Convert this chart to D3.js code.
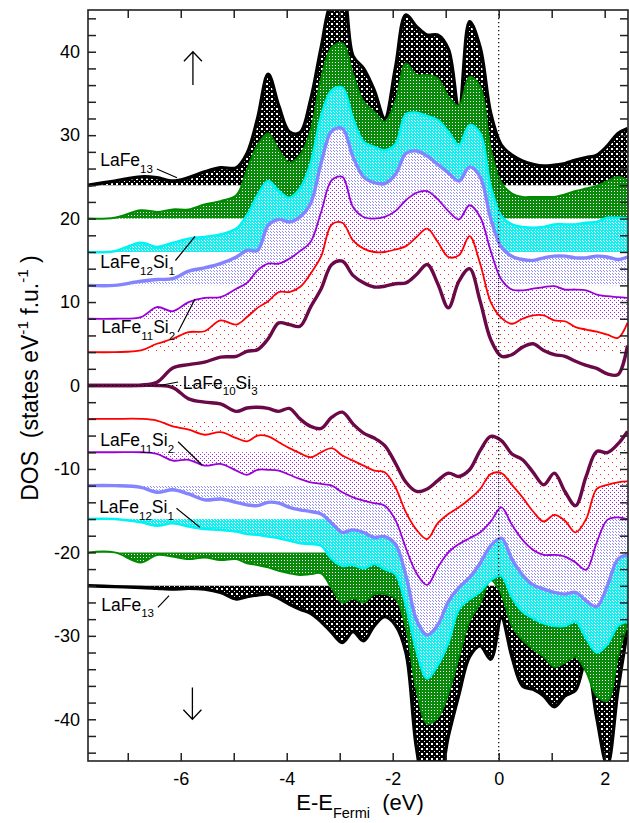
<!DOCTYPE html>
<html>
<head>
<meta charset="utf-8">
<script src="https://cdn.jsdelivr.net/npm/d3@7/dist/d3.min.js"></script>
<style>
  body { margin: 0; background: #fff; }
  #container svg { display: block; }
  text { white-space: pre; }
</style>
</head>
<body>
<div id="container"></div>
<script>
// DOS stack, spin up on top and spin down below, curves shifted by 4 states each

// energy grid (eV, relative to E_Fermi)
const energy = [-7.75, -7.25, -6.75, -6.45, -6.15, -5.85, -5.55, -5.25, -4.95, -4.75,
  -4.55, -4.35, -4.15, -3.95, -3.75, -3.55, -3.35, -3.15, -2.95, -2.75,
  -2.55, -2.35, -2.15, -1.95, -1.75, -1.55, -1.35, -1.15, -0.95, -0.75,
  -0.55, -0.35, -0.15, 0.05, 0.25, 0.45, 0.65, 0.85, 1.05, 1.25,
  1.45, 1.65, 1.85, 2.05, 2.25, 2.43];

// shift of each curve (black, green, cyan, blue, violet, red, maroon)
const shifts = [24, 20, 16, 12, 8, 4, 0];

// spin up, as plotted (shift included)
const blackUp = [24.0, 24.5, 25.0, 24.9, 24.5, 24.9, 25.6, 26.1, 26.1, 27.8,
  32.0, 37.3, 33.5, 30.4, 30.3, 34.2, 40.5, 46.0, 47.0, 39.5,
  38.0, 35.4, 32.0, 38.0, 44.4, 43.0, 42.0, 42.0, 40.3, 33.0,
  43.6, 40.5, 32.6, 28.8, 27.6, 26.9, 26.5, 26.3, 26.4, 26.6,
  27.0, 27.3, 27.6, 28.7, 30.2, 30.8];
const greenUp = [20.0, 20.1, 21.0, 20.8, 21.1, 21.1, 21.7, 22.1, 22.8, 25.8,
  28.8, 30.2, 28.2, 26.7, 27.6, 30.5, 36.8, 40.5, 41.0, 37.3,
  34.0, 32.8, 31.6, 34.0, 38.6, 37.2, 37.2, 36.8, 34.6, 33.5,
  37.0, 35.8, 28.3, 24.3, 23.0, 22.6, 22.6, 22.6, 22.6, 22.9,
  23.3, 23.6, 23.9, 24.5, 25.0, 24.6];
const cyanUp = [16.0, 16.1, 17.1, 16.6, 17.1, 17.6, 17.8, 18.1, 18.8, 20.4,
  22.8, 24.5, 23.3, 22.5, 23.6, 26.6, 32.3, 35.4, 35.7, 32.0,
  29.2, 28.6, 28.2, 28.9, 32.5, 32.7, 32.3, 31.8, 30.4, 28.8,
  31.2, 30.2, 23.8, 20.3, 19.3, 19.0, 18.9, 19.0, 19.3, 19.3,
  19.3, 19.5, 19.6, 20.1, 20.1, 20.0];
const blueUp = [12.0, 12.0, 12.5, 12.7, 12.8, 13.7, 14.1, 14.6, 15.4, 16.2,
  16.2, 19.2, 19.9, 19.6, 20.2, 21.8, 26.7, 30.5, 30.8, 27.4,
  25.0, 24.3, 24.2, 25.3, 27.8, 28.1, 27.5, 26.5, 25.5, 24.5,
  26.2, 25.0, 20.0, 16.6, 15.5, 15.1, 15.0, 15.3, 15.5, 15.5,
  15.3, 15.3, 15.5, 15.4, 15.1, 15.4];
const violetUp = [8.0, 8.0, 8.2, 9.4, 8.9, 10.0, 10.5, 10.6, 11.6, 12.3,
  13.8, 14.6, 14.6, 15.2, 16.1, 17.2, 20.8, 24.6, 25.0, 21.4,
  20.2, 20.0, 20.2, 20.9, 22.2, 23.1, 23.3, 22.3, 20.9, 19.9,
  21.6, 20.2, 16.1, 12.7, 11.5, 11.4, 11.6, 11.8, 11.9, 11.5,
  11.5, 11.4, 10.9, 10.7, 10.6, 10.5];
const redUp = [4.0, 4.0, 4.2, 5.0, 5.6, 6.4, 6.5, 7.8, 7.3, 8.2,
  9.3, 10.1, 11.2, 11.2, 11.8, 13.4, 15.5, 19.3, 19.5, 17.4,
  16.4, 16.0, 16.0, 16.3, 16.7, 17.8, 18.8, 17.2, 15.4, 15.6,
  17.9, 14.6, 10.0, 8.1, 7.4, 8.0, 8.4, 8.4, 7.8, 7.7,
  7.0, 6.7, 6.45, 6.1, 5.7, 7.5];
const maroonUp = [0.0, 0.0, 0.05, 0.4, 2.1, 2.5, 2.8, 3.4, 3.5, 4.1,
  4.3, 5.6, 7.5, 7.3, 7.1, 9.4, 11.6, 14.5, 14.9, 13.2,
  12.3, 11.8, 11.9, 12.2, 12.3, 13.3, 14.5, 12.2, 9.3, 12.5,
  14.0, 10.1, 5.5, 3.5, 3.7, 4.6, 5.0, 4.2, 3.7, 3.5,
  2.9, 2.4, 2.05, 1.4, 1.3, 4.8];

// spin down, as plotted (shift included)
const blackDn = [-24.0, -24.1, -24.2, -24.3, -24.4, -24.3, -24.4, -24.8, -25.6, -25.3,
  -25.1, -25.0, -25.5, -26.2, -26.8, -27.3, -28.3, -29.6, -30.8, -29.5,
  -30.6, -28.8, -27.7, -28.7, -32.0, -43.5, -49.0, -48.0, -42.0, -37.0,
  -32.5, -31.2, -32.8, -27.8, -32.5, -36.0, -36.4, -37.2, -38.5, -37.2,
  -36.5, -32.8, -39.8, -45.5, -36.5, -29.3];
const greenDn = [-20.0, -20.0, -21.2, -20.3, -20.5, -20.8, -20.6, -20.9, -20.8, -21.3,
  -21.5, -21.8, -22.2, -22.5, -22.7, -22.6, -22.5, -24.3, -26.0, -25.5,
  -26.0, -25.0, -25.0, -25.5, -29.0, -36.5, -40.5, -39.8, -36.9, -32.5,
  -28.2, -26.1, -23.3, -25.0, -28.8, -30.5, -31.6, -32.5, -33.7, -33.2,
  -32.5, -34.3, -37.2, -37.8, -32.5, -28.5];
const cyanDn = [-16.0, -16.0, -16.4, -16.8, -16.5, -16.9, -17.2, -17.3, -17.5, -17.8,
  -17.9, -18.1, -18.3, -18.6, -18.9, -19.0, -19.2, -20.8, -21.6, -21.5,
  -21.9, -21.4, -22.0, -22.6, -26.4, -31.8, -35.1, -33.5, -30.8, -26.8,
  -25.6, -24.7, -23.3, -22.8, -25.4, -27.1, -27.9, -28.5, -28.8, -28.8,
  -28.3, -30.3, -32.0, -31.0, -28.8, -28.3];
const blueDn = [-12.0, -12.0, -12.2, -12.8, -12.5, -13.0, -13.7, -13.6, -14.0, -14.3,
  -14.4, -14.0, -14.1, -14.6, -14.9, -15.1, -15.4, -16.5, -17.6, -17.3,
  -17.6, -18.2, -18.1, -19.0, -22.8, -28.1, -29.9, -28.7, -25.9, -24.2,
  -23.0, -21.3, -19.2, -18.3, -20.8, -22.7, -23.9, -24.4, -24.8, -25.0,
  -24.8, -25.8, -26.5, -24.0, -20.8, -20.3];
const violetDn = [-8.0, -8.0, -8.0, -8.2, -9.0, -8.9, -9.6, -9.4, -10.2, -10.7,
  -10.1, -10.1, -10.2, -10.7, -11.2, -11.6, -11.8, -12.0, -12.8, -13.4,
  -13.8, -14.1, -14.4, -16.1, -19.5, -22.5, -23.9, -21.8, -20.0, -19.0,
  -18.3, -17.6, -16.3, -14.6, -16.7, -18.5, -19.7, -20.3, -20.3, -20.5,
  -21.2, -22.1, -18.8, -16.1, -15.8, -16.0];
const redDn = [-4.0, -4.0, -4.0, -4.2, -4.9, -5.3, -5.9, -5.6, -6.3, -6.7,
  -6.0, -6.1, -6.8, -7.5, -8.1, -8.6, -8.0, -7.5, -8.4, -9.0,
  -9.6, -10.2, -10.4, -12.2, -15.2, -17.3, -18.4, -16.5, -15.4, -14.6,
  -13.6, -12.4, -10.6, -10.5, -11.9, -13.4, -15.1, -16.3, -15.5, -16.2,
  -17.6, -16.0, -12.4, -11.9, -11.6, -11.5];
const maroonDn = [0.0, 0.0, 0.0, 0.0, -0.25, -1.6, -2.0, -2.2, -3.1, -2.7,
  -2.6, -2.75, -3.1, -2.75, -4.0, -4.9, -5.15, -3.8, -3.2, -4.6,
  -5.7, -6.3, -7.2, -9.3, -11.6, -12.7, -12.4, -11.4, -10.5, -10.9,
  -10.1, -7.8, -6.1, -6.6, -8.2, -8.9, -10.4, -11.9, -10.5, -12.7,
  -14.4, -10.9, -7.9, -8.05, -7.0, -5.5];

// ticks
const xTicks = d3.range(-7, 3);          // every 1 eV
const xTickLabels = [-6, -4, -2, 0, 2];
const yTicks = d3.range(-44, 45, 2);     // every 2 states
const yTickLabels = [-40, -30, -20, -10, 0, 10, 20, 30, 40];

// curve labels: name parts, text anchor and leader line, in data units
const labels = [
  {parts: [["LaFe"], ["13", "sub"]], at: [-7.52, 26.25], lead: [[-6.45, 25.95], [-6.07, 24.9]]},
  {parts: [["LaFe"], ["12", "sub"], ["Si"], ["1", "sub"]], at: [-7.52, 14.08], lead: [[-6.10, 14.98], [-5.73, 17.86]]},
  {parts: [["LaFe"], ["11", "sub"], ["Si"], ["2", "sub"]], at: [-7.50, 6.29], lead: [[-6.05, 6.41], [-5.73, 10.37]]},
  {parts: [["LaFe"], ["10", "sub"], ["Si"], ["3", "sub"]], at: [-5.96, -0.36], lead: [[-6.39, 0.0], [-6.05, 0.42]]},
  {parts: [["LaFe"], ["11", "sub"], ["Si"], ["2", "sub"]], at: [-7.52, -7.31], lead: [[-6.05, -6.74], [-5.60, -9.53]]},
  {parts: [["LaFe"], ["12", "sub"], ["Si"], ["1", "sub"]], at: [-7.54, -15.28], lead: [[-6.08, -14.72], [-5.64, -16.99]]},
  {parts: [["LaFe"], ["13", "sub"]], at: [-7.50, -26.97], lead: [[-6.43, -26.58], [-6.22, -25.19]]}
];
// spin arrows: [energy, tail, tip]
const spinArrows = [[-5.77, 36.0, 40.0], [-5.78, -36.2, -40.0]];

const upSeries = [blackUp, greenUp, cyanUp, blueUp, violetUp, redUp, maroonUp];
const dnSeries = [blackDn, greenDn, cyanDn, blueDn, violetDn, redDn, maroonDn];

// look of each curve, same order
const looks = [
  {stroke: "#000000", w: 3.4, fill: "url(#pBlack)"},
  {stroke: "#008a00", w: 2.0, fill: "url(#pGreen)"},
  {stroke: "#00f2f2", w: 2.5, fill: "url(#pCyan)"},
  {stroke: "#8484ff", w: 3.4, fill: "url(#pBlue)"},
  {stroke: "#9a00d8", w: 1.8, fill: "url(#pViolet)"},
  {stroke: "#ff0000", w: 1.8, fill: "url(#pRed)"},
  {stroke: "#6a0848", w: 3.4, fill: "#ffffff"}
];

const font = '"Liberation Sans", Arial, Helvetica, sans-serif';

const margin = {top: 10, right: 1, bottom: 62, left: 88},
    width = 629 - margin.left - margin.right,
    height = 823 - margin.top - margin.bottom;

const root = d3.select("#container")
  .append("svg")
    .attr("width", width + margin.left + margin.right)
    .attr("height", height + margin.top + margin.bottom)
    .attr("font-family", font);

const svg = root.append("g")
    .attr("transform", `translate(${margin.left},${margin.top})`);

const x = d3.scaleLinear().domain([-7.75, 2.44]).range([0, width]);
const y = d3.scaleLinear().domain([-45, 45]).range([height, 0]);

// fill patterns
const defs = root.append("defs");
defs.append("clipPath").attr("id", "clip")
  .append("rect").attr("width", width).attr("height", height);

function pattern(id, size, bg, fg, dots, s) {
  const p = defs.append("pattern").attr("id", id)
    .attr("patternUnits", "userSpaceOnUse")
    .attr("width", size).attr("height", size);
  p.append("rect").attr("width", size).attr("height", size).attr("fill", bg);
  dots.forEach(([a, b]) => {
    p.append("rect").attr("x", a).attr("y", b).attr("width", s).attr("height", s)
      .attr("fill", fg).attr("shape-rendering", "crispEdges");
  });
}
pattern("pBlack", 5, "#000", "#fff", [[0.5, 0.5], [3, 3]], 1.6);
pattern("pGreen", 3, "#0a8a0a", "#fff", [[1, 1]], 1.1);
pattern("pCyan", 3, "#10f0f0", "#fff", [[0, 0], [1.5, 1.5]], 1.2);
pattern("pBlue", 3, "#fff", "#8c8cff", [[0, 0], [1.5, 1.5]], 1.2);
pattern("pViolet", 4, "#fff", "#a020e0", [[0, 0], [2, 2]], 1.0);
pattern("pRed", 8, "#fff", "#ff2020", [[0, 0], [4, 4]], 1.3);

const plot = svg.append("g").attr("clip-path", "url(#clip)");

const line = d3.line().x(d => x(d.e)).y(d => y(d.v)).curve(d3.curveCatmullRom);

looks.forEach((look, i) => {
  [[upSeries[i], shifts[i]], [dnSeries[i], -shifts[i]]].forEach(([vals, base]) => {
    const pts = energy.map((e, j) => ({e: e, v: vals[j]}));
    const area = d3.area()
      .x(d => x(d.e))
      .y0(y(base))
      .y1(d => y(d.v))
      .curve(d3.curveCatmullRom);
    plot.append("path").datum(pts)
      .attr("d", area)
      .attr("fill", look.fill);
    plot.append("path").datum(pts)
      .attr("d", line)
      .attr("fill", "none")
      .attr("stroke", look.stroke)
      .attr("stroke-width", look.w)
      .attr("stroke-linejoin", "round");
  });
});

// zero lines
plot.append("line")
  .attr("x1", 0).attr("x2", width).attr("y1", y(0)).attr("y2", y(0))
  .attr("stroke", "#000").attr("stroke-width", 1.2).attr("stroke-dasharray", "1.3,2.7");
plot.append("line")
  .attr("x1", x(0)).attr("x2", x(0)).attr("y1", 0).attr("y2", height)
  .attr("stroke", "#000").attr("stroke-width", 1.2).attr("stroke-dasharray", "1.3,2.7");

// text with subscripts / superscripts
function richText(sel, parts, size) {
  let shift = 0;
  parts.forEach(([s, kind]) => {
    const target = kind === "sub" ? size * 0.38 : kind === "sup" ? -size * 0.42 : 0;
    sel.append("tspan")
      .attr("dy", target - shift)
      .attr("font-size", kind ? size * 0.66 : size)
      .text(s);
    shift = target;
  });
  return sel;
}

// curve labels
labels.forEach(l => {
  svg.append("line")
    .attr("x1", x(l.lead[0][0])).attr("y1", y(l.lead[0][1]))
    .attr("x2", x(l.lead[1][0])).attr("y2", y(l.lead[1][1]))
    .attr("stroke", "#000").attr("stroke-width", 1.2);
  const t = svg.append("text")
    .attr("x", x(l.at[0])).attr("y", y(l.at[1]))
    .attr("fill", "#000");
  richText(t, l.parts, 17.5);
});

// spin arrows
spinArrows.forEach(([e, tail, tip]) => {
  const px = x(e), y0 = y(tail), y1 = y(tip);
  const dir = y1 < y0 ? 1 : -1;
  svg.append("path")
    .attr("d", `M${px},${y0}L${px},${y1}M${px - 9},${y1 + dir * 9.5}L${px},${y1}L${px + 9},${y1 + dir * 9.5}`)
    .attr("fill", "none").attr("stroke", "#000").attr("stroke-width", 1.3);
});

// axes, ticks pointing inward on all four sides
function styleAxis(g) {
  g.select(".domain").remove();
  g.selectAll(".tick line").attr("stroke", "#222").attr("stroke-width", 1.5);
  g.selectAll(".tick text").attr("fill", "#000");
  g.attr("font-family", font).attr("font-size", 18);
}

svg.append("g")
  .attr("transform", `translate(0,${height})`)
  .call(d3.axisBottom(x).tickValues(xTicks).tickSizeInner(-8).tickSizeOuter(0).tickPadding(11)
    .tickFormat(d => xTickLabels.includes(d) ? String(d) : ""))
  .call(styleAxis);

svg.append("g")
  .call(d3.axisTop(x).tickValues(xTicks).tickSizeInner(-8).tickSizeOuter(0).tickFormat(""))
  .call(styleAxis);

svg.append("g")
  .call(d3.axisLeft(y).tickValues(yTicks).tickSizeInner(-8).tickSizeOuter(0).tickPadding(8)
    .tickFormat(d => yTickLabels.includes(d) ? String(d) : ""))
  .call(styleAxis);

svg.append("g")
  .attr("transform", `translate(${width},0)`)
  .call(d3.axisRight(y).tickValues(yTicks).tickSizeInner(-8).tickSizeOuter(0).tickFormat(""))
  .call(styleAxis);

svg.append("rect")
  .attr("width", width).attr("height", height)
  .attr("fill", "none").attr("stroke", "#222").attr("stroke-width", 1.6);

// axis titles
const xTitle = root.append("text")
  .attr("x", 360).attr("y", 810)
  .attr("text-anchor", "middle").attr("fill", "#000");
richText(xTitle, [["E-E"], ["Fermi", "sub"], ["  (eV)"]], 22);

const yTitle = root.append("text")
  .attr("transform", "translate(38,378) rotate(-90)")
  .attr("text-anchor", "middle").attr("fill", "#000");
richText(yTitle, [["DOS  (states eV"], ["-1", "sup"], [" f.u."], ["-1", "sup"], [" )"]], 23);
</script>
</body>
</html>
